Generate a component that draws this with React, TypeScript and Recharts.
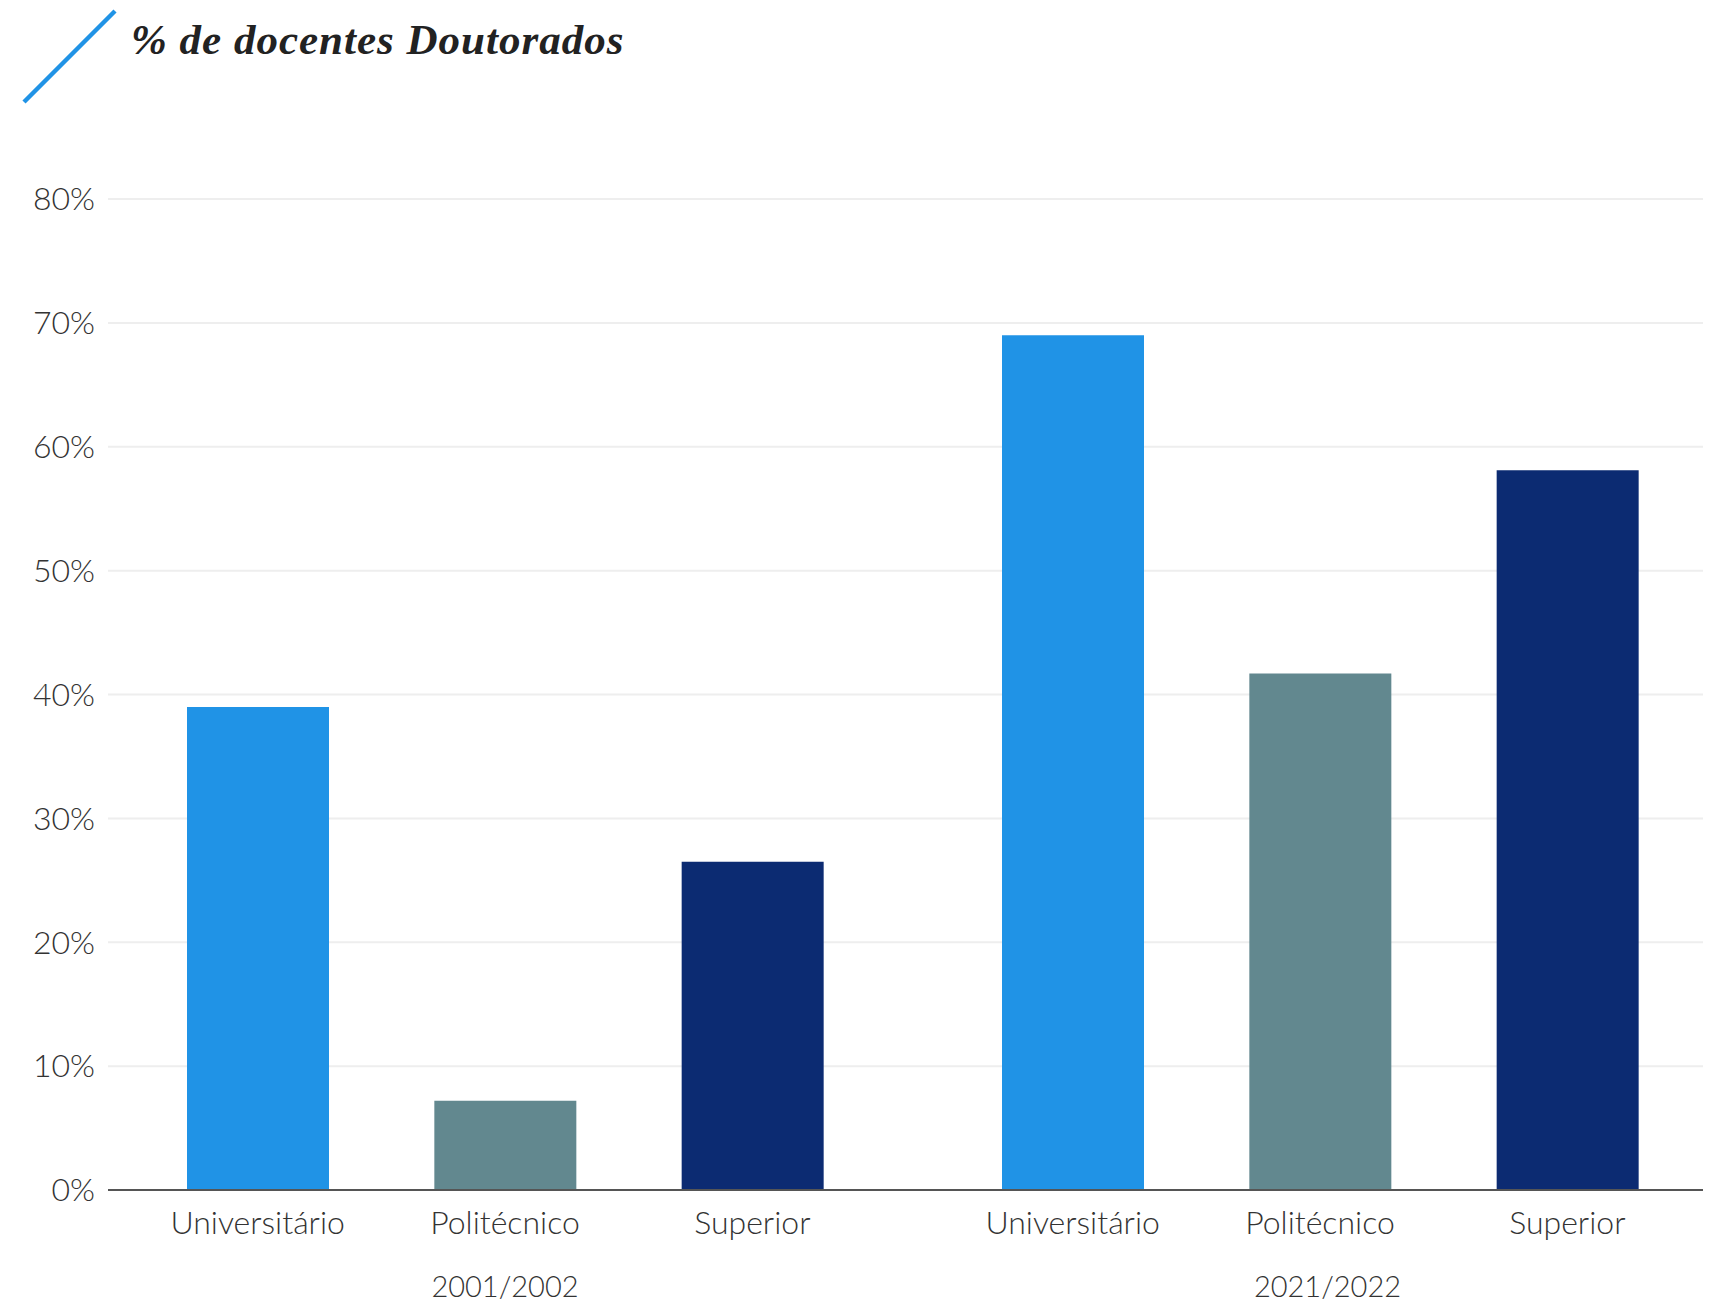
import { Bar, BarChart, CartesianGrid, Cell, XAxis, YAxis } from "recharts";

// values (% of teaching staff with a doctorate)
const categories = ["Universitário", "Politécnico", "Superior"];
const years = ["2001/2002", "2021/2022"];
const values2001 = [39.0, 7.2, 26.5];
const values2022 = [69.0, 41.7, 58.1];
const yTicks = [0, 10, 20, 30, 40, 50, 60, 70, 80];

const COLORS = ["#2093e6", "#62888f", "#0c2b72"];
const FONT = "Lato, 'Noto Sans', sans-serif";
const TICK_STYLE = { fontFamily: FONT, fontWeight: 300, fontSize: 32, fill: "#333" };
const GROUP_STYLE = { ...TICK_STYLE, fontSize: 29 };

const PLOT_TOP = 199;
const CHART_H = 1303;

function rows(year: string, values: number[]) {
  return categories.map((name, i) => ({ name, group: year, value: values[i] }));
}

function YearChart({
  year,
  values,
  width,
  showY,
  padLeft,
  padRight,
  groupPad,
}: {
  year: string;
  values: number[];
  width: number;
  showY: boolean;
  padLeft: number;
  padRight: number;
  groupPad: { left: number; right: number };
}) {
  const data = rows(year, values);
  return (
    <BarChart
      width={width}
      height={CHART_H}
      data={data}
      margin={{ top: PLOT_TOP, right: showY ? 0 : 9, bottom: 0, left: 0 }}
      barCategoryGap={0}
    >
      <CartesianGrid vertical={false} stroke="#eeeeee" strokeWidth={2} />
      <YAxis
        domain={[0, 80]}
        ticks={yTicks}
        width={showY ? 108 : 0}
        hide={!showY}
        axisLine={false}
        tickLine={false}
        tickMargin={7}
        tick={TICK_STYLE}
        tickFormatter={(v) => `${v}%`}
        interval={0}
      />
      <XAxis
        xAxisId="cat"
        dataKey="name"
        height={50}
        padding={{ left: padLeft, right: padRight }}
        axisLine={{ stroke: "#555", strokeWidth: 2 }}
        tickLine={false}
        tickMargin={15}
        tick={TICK_STYLE}
        interval={0}
      />
      <XAxis
        xAxisId="grp"
        dataKey="group"
        allowDuplicatedCategory={false}
        height={63}
        padding={groupPad}
        axisLine={false}
        tickLine={false}
        tickSize={0}
        tickMargin={36}
        tick={GROUP_STYLE}
      />
      <Bar xAxisId="cat" dataKey="value" barSize={142} isAnimationActive={false}>
        {data.map((_, i) => (
          <Cell key={i} fill={COLORS[i % COLORS.length]} />
        ))}
      </Bar>
    </BarChart>
  );
}

export default function App() {
  return (
    <div
      style={{
        position: "absolute",
        left: 0,
        top: 0,
        width: 1712,
        height: 1303,
        background: "#fff",
        overflow: "hidden",
      }}
    >
      <svg width={130} height={110} style={{ position: "absolute", left: 0, top: 0 }}>
        <line x1={24} y1={102} x2={115} y2={11} stroke="#2093e6" strokeWidth={4.5} />
      </svg>
      <div
        style={{
          position: "absolute",
          left: 131,
          top: 18,
          fontFamily: "'Liberation Serif', 'DejaVu Serif', serif",
          fontStyle: "italic",
          fontWeight: 700,
          fontSize: 43,
          letterSpacing: 1,
          lineHeight: "43px",
          color: "#222",
          whiteSpace: "nowrap",
        }}
      >
        % de docentes Doutorados
      </div>
      <div style={{ position: "absolute", left: 0, top: 0, display: "flex" }}>
        <YearChart
          year={years[0]}
          values={values2001}
          width={904}
          showY
          padLeft={26}
          padRight={28}
          groupPad={{ left: 26, right: 28 }}
        />
        <YearChart
          year={years[1]}
          values={values2022}
          width={808}
          showY={false}
          padLeft={45}
          padRight={12}
          groupPad={{ left: 60, right: 12 }}
        />
      </div>
    </div>
  );
}
